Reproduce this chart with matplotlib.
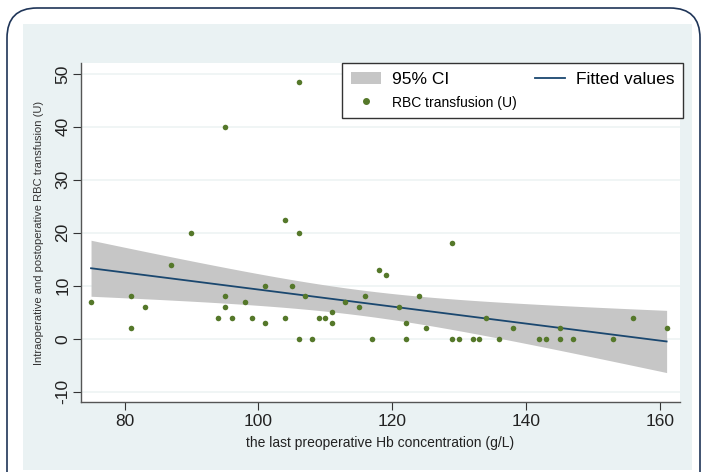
import numpy as np
import matplotlib
matplotlib.use("Agg")
import matplotlib.pyplot as plt
from matplotlib.patches import FancyBboxPatch, Rectangle, Patch
from matplotlib.lines import Line2D
from matplotlib.transforms import IdentityTransform

plt.rcParams['font.family'] = ['Liberation Sans', 'DejaVu Sans']
plt.rcParams['axes.unicode_minus'] = False

# Data
hb = [75, 81, 81, 83, 87, 90, 94, 95, 95, 95, 96, 98, 99, 101, 101, 104, 104, 105,
      106, 106, 106, 107, 108, 109, 110, 111, 111, 113, 115, 116, 117, 118, 119,
      121, 122, 122, 124, 125, 129, 129, 130, 132, 133, 134, 136, 138, 142, 143,
      145, 145, 147, 153, 156, 161]
rbc = [7, 8, 2, 6, 14, 20, 4, 8, 6, 40, 4, 7, 4, 10, 3, 22.5, 4, 10,
       48.5, 20, 0, 8, 0, 4, 4, 5, 3, 7, 6, 8, 0, 13, 12,
       6, 3, 0, 8, 2, 18, 0, 0, 0, 0, 4, 0, 2, 0, 0,
       2, 0, 0, 0, 4, 2]
xticks = [80, 100, 120, 140, 160]
yticks = [-10, 0, 10, 20, 30, 40, 50]
t_crit = 2.007  # t(0.975, df=52)

x = np.array(hb, float)
y = np.array(rbc, float)
n = len(x)
b1, b0 = np.polyfit(x, y, 1)
xs = np.linspace(x.min(), x.max(), 100)
yfit = b0 + b1 * xs
resid = y - (b0 + b1 * x)
s = np.sqrt(np.sum(resid ** 2) / (n - 2))
se = s * np.sqrt(1.0 / n + (xs - x.mean()) ** 2 / np.sum((x - x.mean()) ** 2))
lo, hi = yfit - t_crit * se, yfit + t_crit * se

W, H = 702, 472
fig = plt.figure(figsize=(W / 100, H / 100), dpi=100)
fig.patch.set_facecolor('white')

# outer rounded border
border = FancyBboxPatch((7, -40), 693, 472 - 8 + 40, boxstyle="round,pad=0,rounding_size=30",
                        transform=IdentityTransform(), facecolor='white',
                        edgecolor='#1f3558', linewidth=1.2, zorder=-3)
fig.patches.append(border)
# inner panel
panel = Rectangle((23, 472 - 470), 692 - 23, 470 - 24, transform=IdentityTransform(),
                  facecolor='#eaf2f3', edgecolor='none', zorder=-2)
fig.patches.append(panel)

L, R, T, B = 81, 680, 63, 402
ax = fig.add_axes([L / W, 1 - B / H, (R - L) / W, (B - T) / H])
ax.set_facecolor('white')
ax.set_xlim(73.5, 163.0)
ax.set_ylim(-11.95, 52.05)

for yt in yticks:
    ax.axhline(yt, color='#eef3f4', lw=1.2, zorder=0)

ax.fill_between(xs, lo, hi, color='#c6c6c6', lw=0, zorder=1)
ax.plot(xs, yfit, color='#1a476f', lw=1.3, zorder=2)
ax.scatter(x, y, s=16, color='#55782a', lw=0, zorder=3)

for sp in ['top', 'right']:
    ax.spines[sp].set_visible(False)
for sp in ['left', 'bottom']:
    ax.spines[sp].set_color('#555555')
    ax.spines[sp].set_linewidth(1.0)

ax.set_xticks(xticks)
ax.set_yticks(yticks)
ax.tick_params(axis='both', direction='out', length=6, width=0.8, color='#333333',
               labelsize=12.5, labelcolor='#222222')
ax.tick_params(axis='x', pad=3)
ax.tick_params(axis='y', pad=1.5)
for lab in ax.get_yticklabels():
    lab.set_rotation(90)
    lab.set_va('center')

ax.set_xlabel('the last preoperative Hb concentration (g/L)', fontsize=10, color='#222222', labelpad=5)
ax.set_ylabel('Intraoperative and postoperative RBC transfusion (U)', fontsize=8, color='#333333', labelpad=8)

handles = [Patch(facecolor='#c6c6c6', edgecolor='none'),
           Line2D([], [], ls='none', marker='o', ms=4, color='#55782a'),
           Line2D([], [], color='#1a476f', lw=1.3)]
labels = ['95% CI', 'RBC transfusion (U)', 'Fitted values']
leg = ax.legend(handles, labels, ncol=2, loc='upper right', bbox_to_anchor=(1.005, 1.0),
                borderaxespad=0, frameon=True, fancybox=False, edgecolor='#333333',
                framealpha=1, borderpad=0.5, handlelength=1.7, columnspacing=1.1,
                labelspacing=0.45, handletextpad=0.63, fontsize=12.5)
leg.get_frame().set_linewidth(1.0)
leg.get_texts()[1].set_fontsize(10)

fig.savefig('out.png', dpi=100)
